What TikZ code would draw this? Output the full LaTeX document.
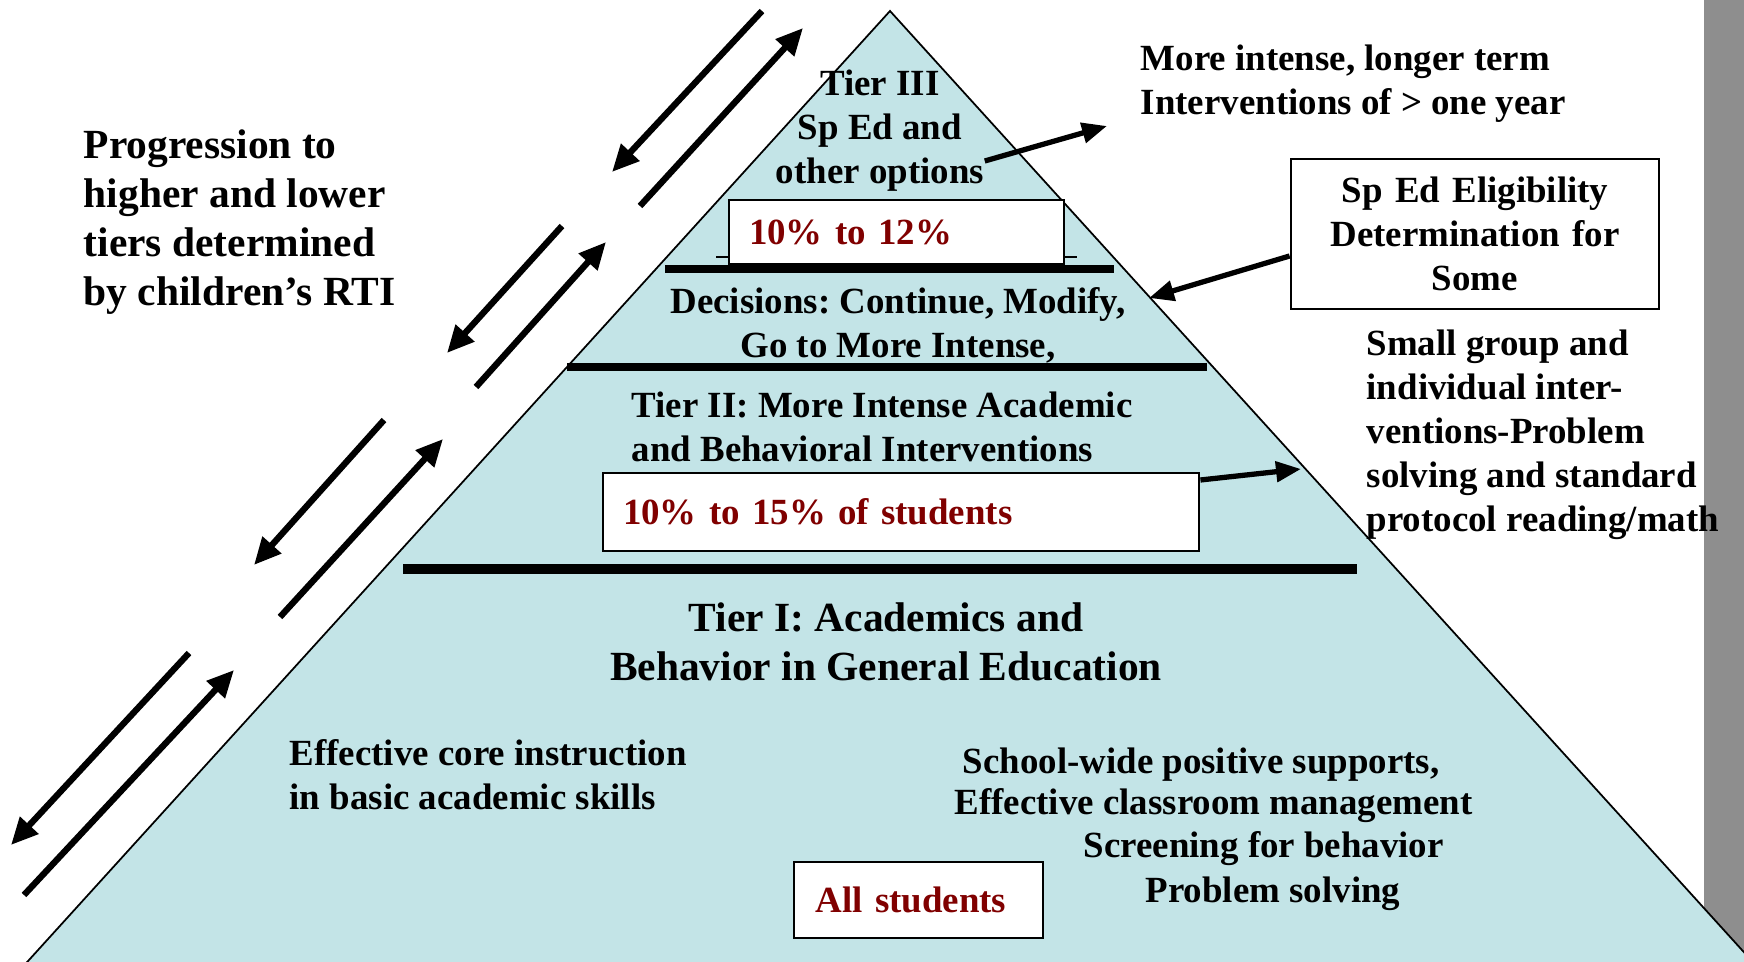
\documentclass[tikz,border=0pt]{standalone}
\usepackage{fontspec}
\setmainfont{Liberation Serif}
\usepackage{xcolor}
\usetikzlibrary{arrows.meta, positioning}
\definecolor{pyramid}{RGB}{195,228,231}
\definecolor{darkred}{RGB}{128,0,0}
\definecolor{sidebar}{RGB}{142,142,142}
\tikzset{
    txt/.style={inner sep=0pt, font=\bfseries\fontsize{10.5}{12.5}\selectfont},
    bigtxt/.style={inner sep=0pt, font=\bfseries\fontsize{11.8}{13.9}\selectfont},
    pctbox/.style={rectangle, draw, line width=0.8pt, fill=white, text=darkred, inner xsep=0.2cm, inner ysep=0pt, align=left, font=\bfseries\fontsize{10.5}{12.5}\selectfont},
    infobox/.style={rectangle, draw, line width=0.8pt, fill=white, inner xsep=0.2cm, inner ysep=0pt, align=center, font=\bfseries\fontsize{10.5}{12.5}\selectfont},
    tierline/.style={line width=2pt},
    moveline/.style={line width=1.8pt, -{Triangle[length=0.27cm, width=0.24cm]}},
    pointer/.style={line width=1.5pt, -{Triangle[length=0.25cm, width=0.2cm]}}
}
\begin{document}
\frenchspacing
\begin{tikzpicture}
    \useasboundingbox (0,0) rectangle (17.44,9.61);
    % Sidebar and pyramid
    \fill[sidebar] (17.04,0) rectangle (17.44,9.61);
    \draw[fill=pyramid, line width=0.5pt] (0.19,-0.1) -- (8.90,9.50) -- (17.61,-0.1) -- cycle;

    % Tier separators
    \draw[line width=0.4pt] (7.16,7.04) -- (10.77,7.04);
    \draw[tierline] (6.65,6.92) -- (11.14,6.92);
    \draw[tierline] (5.67,5.94) -- (12.07,5.94);
    \draw[tierline, line width=2.6pt] (4.03,3.92) -- (13.57,3.92);

    % Tier III
    \node[txt, align=center] (tier3) at (8.80,8.30) {Tier III\\Sp Ed and\\other options};
    \node[pctbox, text width=2.95cm, minimum height=0.64cm] (pct3) at (8.965,7.29) {10\% to 12\%};
    \node[txt, align=center] (decide) at (8.98,6.36) {Decisions: Continue, Modify,\\Go to More Intense,};

    % Tier II
    \node[txt, align=left, anchor=west] (tier2) at (6.31,5.34) {Tier II: More Intense Academic\\and Behavioral Interventions};
    \node[pctbox, text width=5.56cm, minimum height=0.78cm] (pct2) at (9.01,4.49) {10\% to 15\% of students};

    % Tier I
    \node[bigtxt, align=center] (tier1) at (8.86,3.19) {Tier I: Academics and\\Behavior in General Education};
    \node[txt, align=left, anchor=west] (core) at (2.89,1.86) {Effective core instruction\\in basic academic skills};
    \node[txt, anchor=base west] (swide) at (9.62,1.88) {School-wide positive supports,};
    \node[txt, anchor=base west] (manage) at (9.54,1.47) {Effective classroom management};
    \node[txt, anchor=base west] (screen) at (10.83,1.04) {Screening for behavior};
    \node[txt, anchor=base west] (solve) at (11.45,0.59) {Problem solving};
    \node[pctbox, align=center, text width=2.09cm, minimum height=0.76cm] (pct1) at (9.185,0.61) {All students\hspace*{0.15cm}};

    % Side notes
    \node[bigtxt, align=left, anchor=west] (prog) at (0.83,7.39) {Progression to\\higher and lower\\tiers determined\\by children's RTI};
    \node[txt, align=left, anchor=west] (longer) at (11.40,8.77) {More intense, longer term\\Interventions of > one year};
    \node[infobox, text width=3.28cm, minimum height=1.50cm] (elig) at (14.75,7.27) {Sp Ed Eligibility\\Determination for\\Some};
    \node[txt, align=left, anchor=west] (small) at (13.66,5.26) {Small group and\\individual inter-\\ventions-Problem\\solving and standard\\protocol reading/math};

    % Pointers to the pyramid edge
    \coordinate (edge3) at (11.07,8.35);
    \coordinate (edge2) at (11.49,6.63);
    \coordinate (edge1) at (13.01,4.92);
    \draw[pointer] ([yshift=-0.30cm]tier3.east) -- (edge3);
    \draw[pointer] ([yshift=-0.22cm]elig.west) -- (edge2);
    \draw[pointer] ([yshift=0.32cm]pct2.east) -- (edge1);

    % Progression arrows
    \coordinate (down1) at (7.62,9.50);  \coordinate (down1e) at (6.12,7.89);
    \coordinate (up1) at (6.40,7.55);    \coordinate (up1e) at (8.03,9.33);
    \coordinate (down2) at (5.62,7.35);  \coordinate (down2e) at (4.47,6.08);
    \coordinate (up2) at (4.76,5.74);    \coordinate (up2e) at (6.06,7.19);
    \coordinate (down3) at (3.84,5.41);  \coordinate (down3e) at (2.54,3.96);
    \coordinate (up3) at (2.80,3.44);    \coordinate (up3e) at (4.43,5.22);
    \coordinate (down4) at (1.89,3.08);  \coordinate (down4e) at (0.11,1.16);
    \coordinate (up4) at (0.24,0.66);    \coordinate (up4e) at (2.34,2.91);
    \draw[moveline] (down1) -- (down1e);
    \draw[moveline] (up1) -- (up1e);
    \draw[moveline] (down2) -- (down2e);
    \draw[moveline] (up2) -- (up2e);
    \draw[moveline] (down3) -- (down3e);
    \draw[moveline] (up3) -- (up3e);
    \draw[moveline] (down4) -- (down4e);
    \draw[moveline] (up4) -- (up4e);
\end{tikzpicture}
\end{document}
